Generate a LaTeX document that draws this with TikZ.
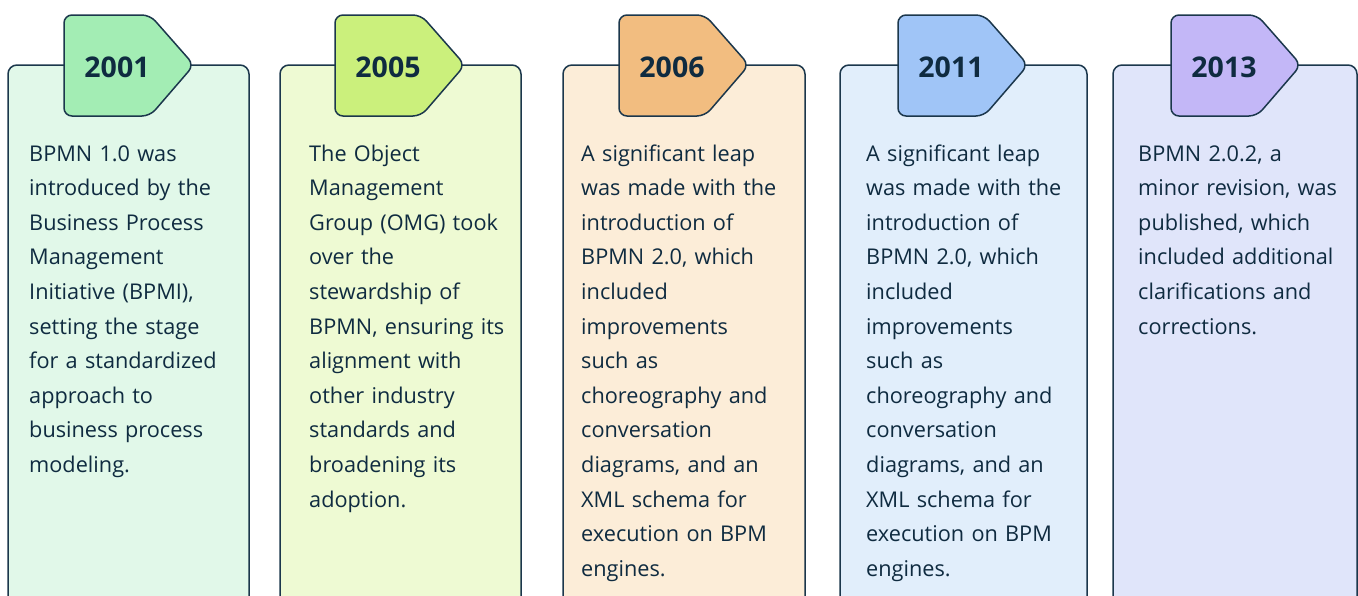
\documentclass[tikz,border=0pt]{standalone}
\usepackage{fontspec}
\setmainfont{Open Sans}
\definecolor{ink}{HTML}{0F2B40}
\definecolor{edge}{HTML}{1B374C}
\definecolor{cardA}{HTML}{E1F8E9}
\definecolor{tagA}{HTML}{A3EDB4}
\definecolor{cardB}{HTML}{EEFAD3}
\definecolor{tagB}{HTML}{CBF07C}
\definecolor{cardC}{HTML}{FCEDD8}
\definecolor{tagC}{HTML}{F2BD80}
\definecolor{cardD}{HTML}{E1EEFB}
\definecolor{tagD}{HTML}{A0C5F7}
\definecolor{cardE}{HTML}{E0E5FA}
\definecolor{tagE}{HTML}{C3B7F7}

\begin{document}
\begin{tikzpicture}[x=1pt,y=-1pt,
		card/.style={draw=edge, line width=1.5pt, rounded corners=9pt},
		tag/.style={draw=edge, line width=1.5pt, rounded corners=8pt},
		year/.style={font=\fontsize{28.5}{32}\selectfont\bfseries, text=ink, inner sep=0pt, anchor=base},
		desc/.style={font=\fontsize{21.7}{34.6}\selectfont, text=ink, inner sep=0pt, anchor=base west, text width=235pt, align=left}]
		% Page frame
		\useasboundingbox (0,0) rectangle (1358,595);
		\clip (0,0) rectangle (1358,595);
		% Cards and year tags
		\foreach \l/\r/\t/\cf/\tf/\yr/\n in {8/249/64/cardA/tagA/2001/1, 280/521/335/cardB/tagB/2005/2, 563/805/619/cardC/tagC/2006/3, 840/1087/898/cardD/tagD/2011/4, 1113/1357/1171/cardE/tagE/2013/5} {
			\draw[card, fill=\cf] (\l,640) -- (\l,65) -- (\r,65) -- (\r,640);
			\draw[tag, fill=\tf] (\t,15) -- ++(86,0) -- ++(44,50) -- ++(-44,51) -- (\t,116) -- cycle;
			\node[year] (year\n) at ({\t+53},77) {\yr};
		}
		% Descriptions
		\node[desc] (desc1) at (29,161) {BPMN 1.0 was\\ introduced by the\\ Business Process\\ Management\\ Initiative (BPMI),\\ setting the stage\\ for a standardized\\ approach to\\ business process\\ modeling.};
		\node[desc] (desc2) at (309,161) {The Object\\ Management\\ Group (OMG) took\\ over the\\ stewardship of\\ BPMN, ensuring its\\ alignment with\\ other industry\\ standards and\\ broadening its\\ adoption.};
		\node[desc] (desc3) at (581,161) {A significant leap\\ was made with the\\ introduction of\\ BPMN 2.0, which\\ included\\ improvements\\ such as\\ choreography and\\ conversation\\ diagrams, and an\\ XML schema for\\ execution on BPM\\ engines.};
		\node[desc] (desc4) at (866,161) {A significant leap\\ was made with the\\ introduction of\\ BPMN 2.0, which\\ included\\ improvements\\ such as\\ choreography and\\ conversation\\ diagrams, and an\\ XML schema for\\ execution on BPM\\ engines.};
		\node[desc] (desc5) at (1138,161) {BPMN 2.0.2, a\\ minor revision, was\\ published, which\\ included additional\\ clarifications and\\ corrections.};
	\end{tikzpicture}
\end{document}
